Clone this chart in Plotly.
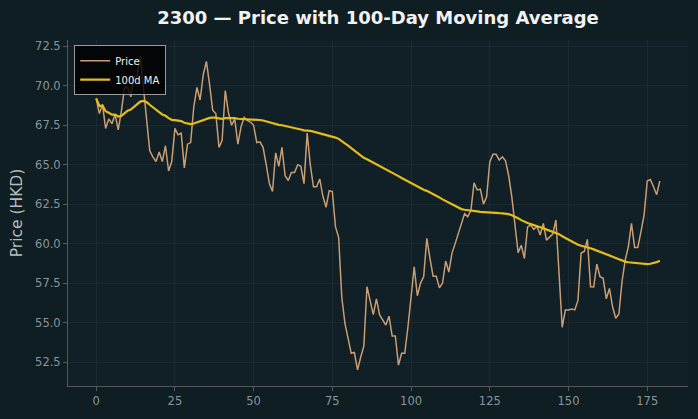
import plotly.graph_objects as go
import pandas as pd

title = "2300 — Price with 100-Day Moving Average"
y_label = "Price (HKD)"
x_ticks = [0, 25, 50, 75, 100, 125, 150, 175]
y_ticks = [52.5, 55.0, 57.5, 60.0, 62.5, 65.0, 67.5, 70.0, 72.5]

price = [
    69.2, 68.24, 68.8, 67.3, 67.9, 67.6, 68.2, 67.2, 68.4, 69.86,
    69.9, 69.3, 70.56, 70.6, 71.9, 69.8, 67.7, 65.9, 65.5, 65.2,
    65.8, 65.2, 66.2, 64.6, 65.2, 67.3, 66.9, 67.0, 64.8, 66.3,
    66.4, 68.66, 69.9, 69.1, 70.7, 71.55, 70.1, 68.45, 68.24, 66.1,
    66.55, 69.7, 68.3, 67.5, 67.9, 66.3, 67.4, 68.0, 67.8, 67.7,
    67.5, 66.4, 66.45, 66.1, 65.0, 63.8, 63.3, 65.75, 64.9, 66.1,
    64.3, 64.0, 64.5, 64.5, 65.0, 64.9, 63.8, 67.0, 65.0, 63.6,
    63.6, 64.1, 63.0, 62.3, 63.35, 63.3, 61.06, 60.4, 56.6, 54.95,
    54.0, 53.05, 53.1, 52.0, 52.8, 53.5, 57.27, 56.3, 55.5, 56.5,
    55.5, 55.16, 54.84, 55.4, 54.15, 54.15, 52.3, 53.05, 53.05, 54.7,
    56.6, 58.53, 56.7, 57.5, 57.9, 60.33, 59.06, 57.94, 57.94, 57.2,
    57.5, 58.9, 58.2, 59.4, 60.0, 60.65, 61.28, 61.9, 61.7, 62.1,
    63.85, 63.4, 63.45, 62.5, 62.96, 65.18, 65.66, 65.66, 65.3, 65.5,
    65.24, 64.3, 62.96, 61.28, 59.42, 59.9, 59.06, 61.06, 61.17, 60.9,
    61.1, 60.54, 61.28, 60.22, 60.43, 60.6, 61.5, 58.0, 54.7, 55.8,
    55.8, 55.85, 55.8, 56.4, 59.4, 59.5, 60.27, 57.27, 57.25, 58.7,
    57.9, 57.8, 56.5, 57.16, 56.0, 55.27, 55.54, 57.6, 58.95, 59.8,
    61.28, 59.76, 59.76, 60.75, 61.8, 63.97, 64.06, 63.6, 63.1, 63.97,
]
days = list(range(len(price)))
ma_window = 100
ma = pd.Series(price).rolling(ma_window, min_periods=1).mean().tolist()

fig = go.Figure()
fig.add_trace(go.Scatter(x=days, y=price, mode="lines", name="Price",
                         line=dict(color="#c99e72", width=1.5)))
fig.add_trace(go.Scatter(x=days, y=ma, mode="lines", name="100d MA",
                         line=dict(color="#e4bd1d", width=2.2)))

tick_color = "#8a949a"
grid_color = "#1b2a30"
axis_color = "#55595b"
fig.update_layout(
    width=698, height=419,
    paper_bgcolor="#0f1e23",
    plot_bgcolor="#111f26",
    margin=dict(l=68, r=10, t=40, b=33),
    font=dict(family="DejaVu Sans", color=tick_color, size=11),
    title=dict(text="<b>" + title + "</b>", x=0.5, xref="paper", y=0.957, yanchor="middle",
               font=dict(size=18, color="#f2f2f2", family="DejaVu Sans")),
    showlegend=True,
    legend=dict(x=0.01, y=0.985, xanchor="left", yanchor="top",
                bgcolor="rgba(0,0,0,0.82)", bordercolor="#9a9a9a", borderwidth=1,
                font=dict(size=10, color="#f0f0f0"), itemwidth=30,
                tracegroupgap=0),
    xaxis=dict(range=[-8.95, 187.95], tickvals=x_ticks, showgrid=True, gridcolor=grid_color,
               gridwidth=1, zeroline=False, showline=True, linecolor=axis_color, linewidth=1,
               ticks="outside", ticklen=4, tickcolor=axis_color, tickfont=dict(size=11.5, color=tick_color)),
    yaxis=dict(range=[50.98, 72.9], tickvals=y_ticks, tickformat=".1f", showgrid=True,
               gridcolor=grid_color, gridwidth=1, zeroline=False, showline=True,
               linecolor=axis_color, linewidth=1, ticks="outside", ticklen=4, tickcolor=axis_color,
               tickfont=dict(size=11.5, color=tick_color),
               title=dict(text=y_label, font=dict(size=15.5, color="#b4bcbf"), standoff=8)),
)

fig.write_html("out.html")
